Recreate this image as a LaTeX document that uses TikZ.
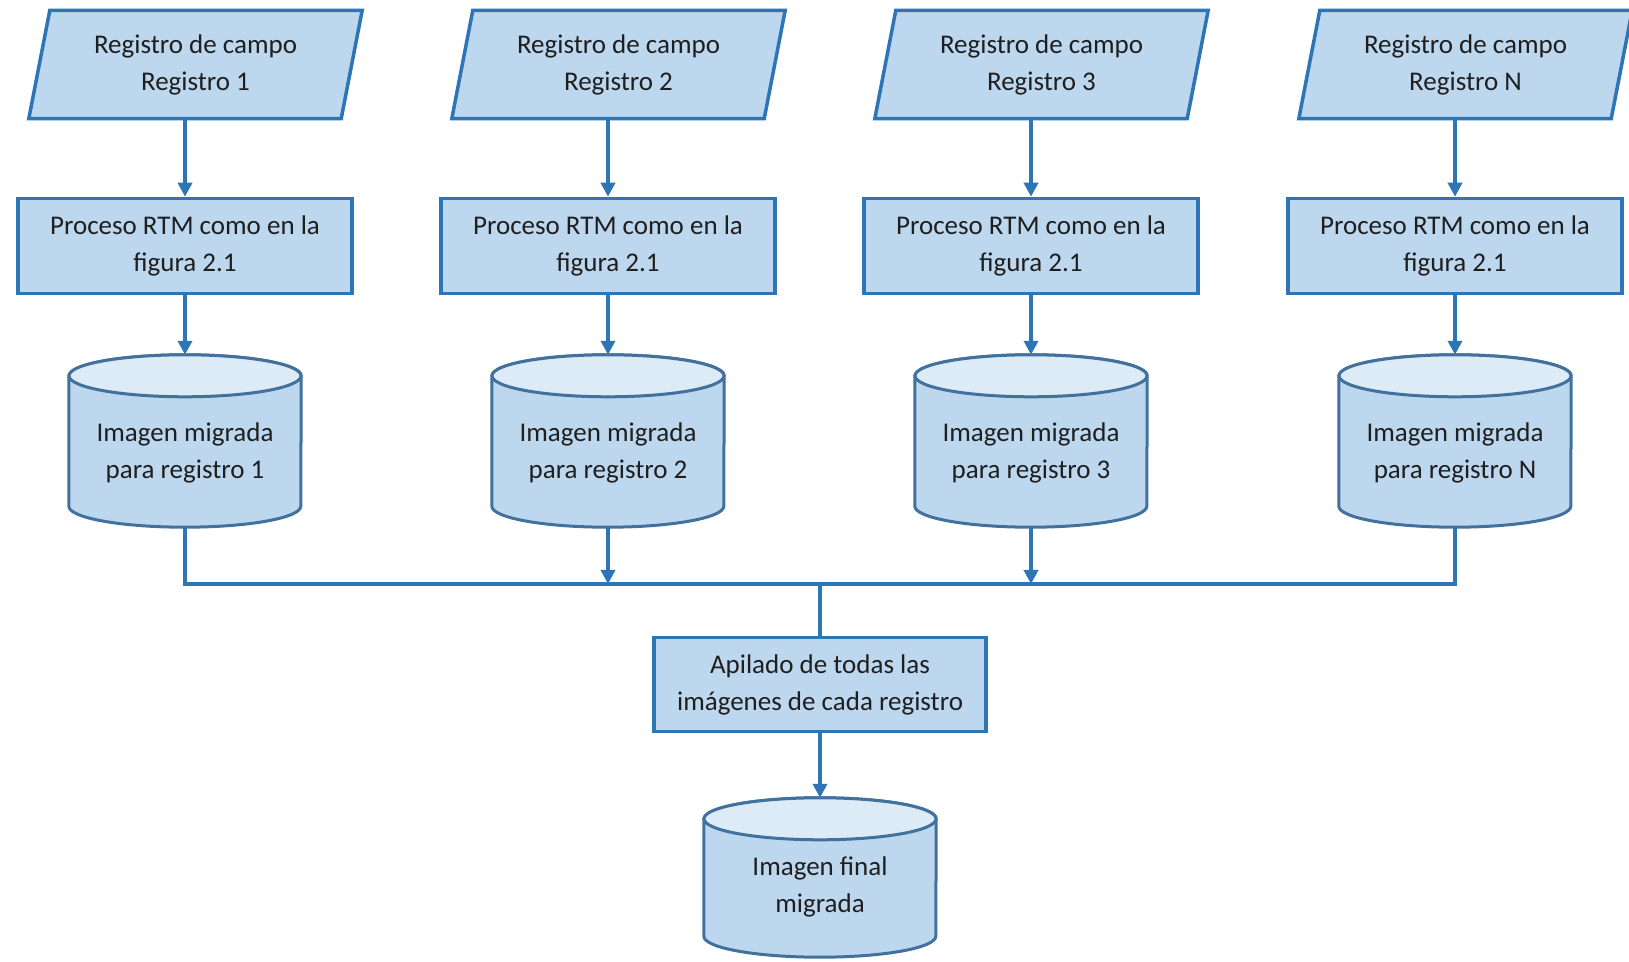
\documentclass[tikz,border=0pt]{standalone}
\usepackage{fontspec}
\setmainfont{Carlito}
\usetikzlibrary{arrows.meta,backgrounds}

\definecolor{boxfill}{HTML}{BDD7EE}
\definecolor{endfill}{HTML}{DDEBF7}
\definecolor{edge}{HTML}{2E75B6}
\definecolor{dbedge}{HTML}{41719C}
\definecolor{ink}{HTML}{1F1F1F}

\tikzset{
  lbl/.style={font=\fontsize{27}{37}\selectfont, text=ink, align=center, inner sep=0pt},
  inbox/.style={lbl, minimum width=312pt, minimum height=108pt},
  procbox/.style={lbl, draw=edge, line width=3.5pt, fill=boxfill,
                  minimum width=334pt, minimum height=95pt},
  dbbox/.style={minimum width=232pt, minimum height=#1, inner sep=0pt},
  flow/.style={draw=edge, line width=4pt, -{Triangle[length=14pt,width=14pt]}},
  wire/.style={draw=edge, line width=4pt, line join=miter},
  pgram/.style={draw=edge, line width=3.5pt, fill=boxfill, line join=miter},
  dbline/.style={draw=dbedge, line width=3pt},
}

% storage drum drawn round an (empty) node of the drum's full size
\newcommand\drawdrum[1]{%
  \begin{scope}[on background layer]
    \draw[dbline, fill=boxfill]
      ([yshift=-21pt]#1.north west) -- ([yshift=21pt]#1.south west)
      arc[start angle=180, end angle=360, x radius=116pt, y radius=21pt]
      -- ([yshift=-21pt]#1.north east)
      arc[start angle=0, end angle=180, x radius=116pt, y radius=21pt] -- cycle;
    \draw[dbline, fill=endfill] ([yshift=-21pt]#1.north)
      ellipse [x radius=116pt, y radius=21pt];
  \end{scope}}

\begin{document}
\begin{tikzpicture}[x=1pt, y=1pt]
  \useasboundingbox (0,0) rectangle (1629,961);

  \coordinate (hub) at (820,377);

  \foreach \i/\cx/\lab in {1/185/1, 2/608/2, 3/1031/3, 4/1455/N} {
    % field record (input parallelogram)
    \node[inbox] (in\i) at (\cx+10.5, 896.5) {Registro de campo\\Registro \lab};
    \begin{scope}[on background layer]
      \draw[pgram] ([xshift=10.5pt]in\i.north west) -- ([xshift=10.5pt]in\i.north east)
        -- ([xshift=-10.5pt]in\i.south east) -- ([xshift=-10.5pt]in\i.south west) -- cycle;
    \end{scope}
    % RTM process
    \node[procbox] (pr\i) at (\cx, 715) {Proceso RTM como en la\\figura 2.1};
    % migrated image store
    \node[dbbox=172pt] (db\i) at (\cx, 520) {};
    \drawdrum{db\i}
    \node[lbl] (dt\i) at (\cx, 508) {Imagen migrada\\para registro \lab};

    \draw[flow] (in\i.south -| pr\i.north) -- (pr\i.north);
    \draw[flow] (pr\i.south) -- (db\i.north);
  }

  % collecting bus
  \draw[wire] (db1.south) |- (hub) -| (db4.south);
  \draw[flow] (db2.south) -- (db2.south |- hub);
  \draw[flow] (db3.south) -- (db3.south |- hub);

  % stacking and final result
  \node[procbox, minimum width=332pt, minimum height=94pt] (stack) at (820, 276.5)
    {Apilado de todas las\\imágenes de cada registro};
  \draw[wire] (hub) -- (stack.north);

  \node[dbbox=159pt] (fin) at (820, 83.5) {};
  \drawdrum{fin}
  \node[lbl] (fint) at (820, 74) {Imagen final\\migrada};
  \draw[flow] (stack.south) -- (fin.north);
\end{tikzpicture}
\end{document}
